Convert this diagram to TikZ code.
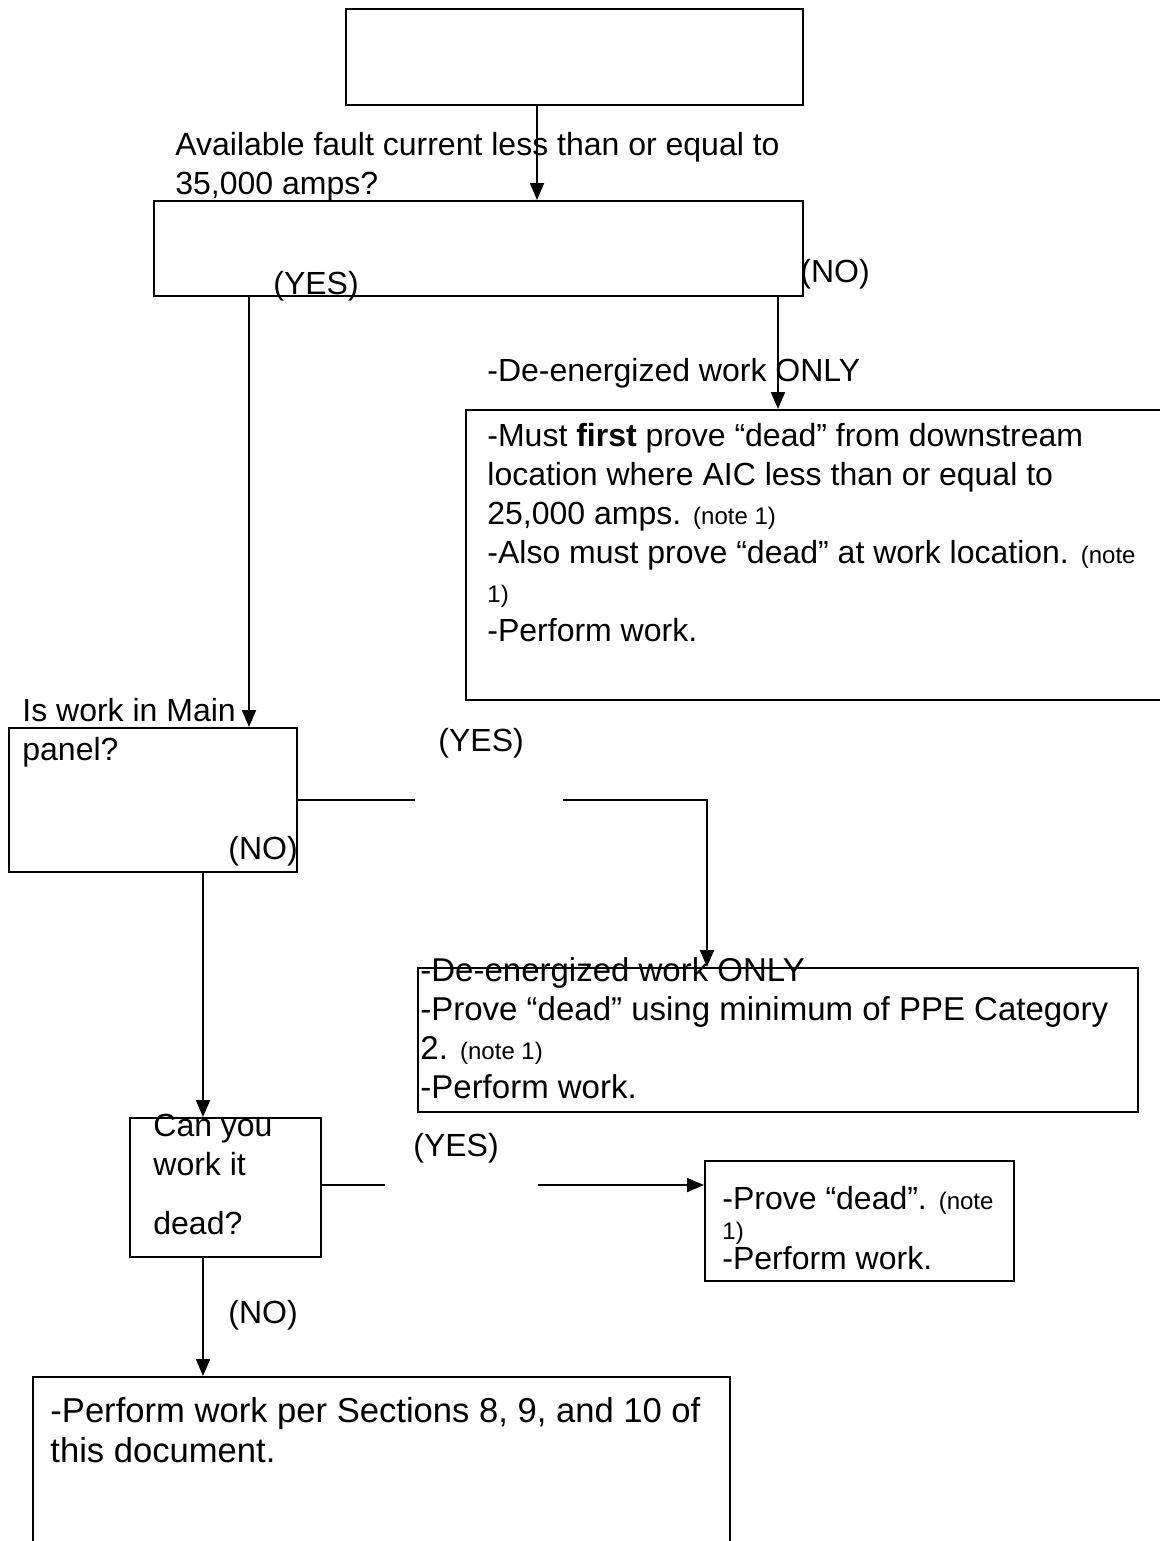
\documentclass[tikz,border=0pt]{standalone}
\usepackage{fontspec}
\setmainfont{Liberation Sans}
\usetikzlibrary{arrows.meta, fit}

\begin{document}
\begin{tikzpicture}[x=0.5pt, y=-0.5pt,
        box/.style={draw, line width=1pt, inner sep=0pt, fit={#1}},
        txt/.style={anchor=north west, inner sep=0pt, align=left, font=\fontsize{16}{19.5}\selectfont},
        arr/.style={line width=1pt, -{Triangle[length=8.5pt, width=7pt]}},
        ln/.style={line width=1pt}]
        \useasboundingbox (0, 0) rectangle (1160, 1541);

        \node[box={(346, 9) (803, 105)}] (start) {};
        \node[box={(154, 201) (803, 296)}] (fault) {};
        \node[box={(466, 410) (1172, 700)}] (high) {};
        \node[box={(9, 728) (297, 872)}] (main) {};
        \node[box={(418, 968) (1138, 1112)}] (deen) {};
        \node[box={(130, 1118) (321, 1257)}] (dead) {};
        \node[box={(705, 1161) (1014, 1281)}] (prove) {};
        \node[box={(33, 1377) (730, 1580)}] (sect) {};

        \node[txt] (faulttxt) at (175, 128) {\strut Available fault current less than or equal to\\35,000 amps?};
        \node[txt] (yes1) at (273, 267) {\strut (YES)};
        \node[txt] (no1) at (800, 255) {\strut (NO)};
        \node[txt] (hightxt) at (487, 354) {\strut -De-energized work ONLY\\[13pt]
            -Must \textbf{first} prove “dead” from downstream\\
            location where AIC less than or equal to\\
            25,000 amps. {\fontsize{12}{19.5}\selectfont (note 1)}\\
            -Also must prove “dead” at work location. {\fontsize{12}{19.5}\selectfont (note}\\
            {\fontsize{12}{19.5}\selectfont 1)}\\
            -Perform work.};
        \node[txt] (maintxt) at (22, 694) {\strut Is work in Main\\panel?};
        \node[txt] (yes2) at (438, 724) {\strut (YES)};
        \node[txt] (no2) at (228, 832) {\strut (NO)};
        \node[txt, font=\fontsize{16.5}{19.5}\selectfont] (deentxt) at (420, 954) {\strut -De-energized work ONLY\\
            -Prove “dead” using minimum of PPE Category\\
            2. {\fontsize{12}{19.5}\selectfont (note 1)}\\
            -Perform work.};
        \node[txt] (deadtxt) at (153, 1109) {\strut Can you\\work it\\[10pt]dead?};
        \node[txt] (yes3) at (413, 1129) {\strut (YES)};
        \node[txt, font=\fontsize{16}{15}\selectfont] (provetxt) at (722, 1186) {\strut -Prove “dead”. {\fontsize{12}{15}\selectfont (note}\\
            {\fontsize{12}{15}\selectfont 1)}\\
            -Perform work.};
        \node[txt] (no3) at (228, 1296) {\strut (NO)};
        \node[txt, font=\fontsize{17.3}{20}\selectfont] (secttxt) at (50, 1394) {\strut -Perform work per Sections 8, 9, and 10 of\\this document.};

        \coordinate (g1a) at (415, 800);
        \coordinate (g1b) at (563, 800);
        \coordinate (g2a) at (385, 1185);
        \coordinate (g2b) at (538, 1185);

        \draw[arr] (start.south -| 537, 0) -- (fault.north -| 537, 0);
        \draw[arr] (fault.south -| 249, 0) -- (main.north -| 249, 0);
        \draw[arr] (fault.south -| 778, 0) -- (high.north -| 778, 0);
        \draw[ln] (main.east |- g1a) -- (g1a);
        \draw[arr] (g1b) -- (g1b -| 707, 0) -- (deen.north -| 707, 0);
        \draw[arr] (main.south -| 203, 0) -- (dead.north -| 203, 0);
        \draw[ln] (dead.east |- g2a) -- (g2a);
        \draw[arr] (g2b) -- (prove.west |- g2b);
        \draw[arr] (dead.south -| 203, 0) -- (sect.north -| 203, 0);
    \end{tikzpicture}
\end{document}
